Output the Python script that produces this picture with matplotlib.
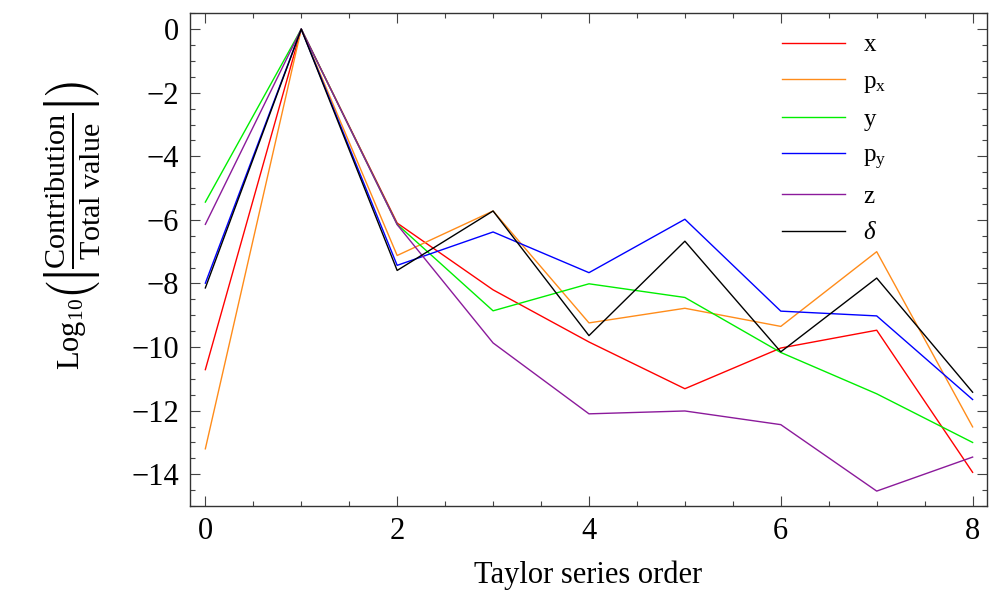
import numpy as np
import matplotlib.pyplot as plt
from matplotlib.ticker import MultipleLocator

plt.rcParams['font.family'] = ['Liberation Serif', 'DejaVu Serif']
plt.rcParams['mathtext.fontset'] = 'custom'
plt.rcParams['mathtext.rm'] = 'Liberation Serif'
plt.rcParams['mathtext.it'] = 'Liberation Serif:italic'
plt.rcParams['mathtext.bf'] = 'Liberation Serif:bold'

# Taylor series order
order = [0, 1, 2, 3, 4, 5, 6, 7, 8]

# log10(|contribution / total value|) for each coordinate
x_vals  = [-10.71, 0, -6.10, -8.20, -9.84, -11.31, -10.03, -9.47, -13.94]
px_vals = [-13.20, 0, -7.12, -5.72, -9.24, -8.78, -9.35, -7.00, -12.51]
y_vals  = [-5.44, 0, -6.14, -8.86, -8.01, -8.44, -10.17, -11.47, -13.00]
py_vals = [-7.99, 0, -7.43, -6.38, -7.66, -5.98, -8.87, -9.02, -11.65]
z_vals  = [-6.14, 0, -6.15, -9.87, -12.10, -12.01, -12.44, -14.53, -13.46]
d_vals  = [-8.14, 0, -7.59, -5.72, -9.64, -6.67, -10.15, -7.83, -11.42]

labels = ['x', r'$\mathrm{p_x}$', 'y', r'$\mathrm{p_y}$', 'z', r'$\delta$']
colors = ['#ff0000', '#ff8c1a', '#00ee00', '#0000ff', '#8b1a9b', '#000000']
series = [x_vals, px_vals, y_vals, py_vals, z_vals, d_vals]

fig = plt.figure(figsize=(10, 6.01), dpi=100)
ax = fig.add_axes([0.19, 0.158, 0.797, 0.820])

for vals, c, lab in zip(series, colors, labels):
    ax.plot(order, vals, color=c, lw=1.0, label=lab)

ax.set_xlim(-0.16, 8.15)
ax.set_ylim(-15.0, 0.5)
ax.xaxis.set_major_locator(MultipleLocator(2))
ax.xaxis.set_minor_locator(MultipleLocator(0.5))
ax.yaxis.set_major_locator(MultipleLocator(2))
ax.yaxis.set_minor_locator(MultipleLocator(0.5))
ax.tick_params(which='both', direction='in', top=True, right=True,
               color='#444444', width=0.8)
ax.tick_params(which='major', length=7, labelsize=22, pad=8)
ax.tick_params(which='minor', length=3.5)
for s in ax.spines.values():
    s.set_linewidth(1.0)
    s.set_color('#333333')

ax.set_xlabel('Taylor series order', fontsize=22, labelpad=10)

# y label in two pieces so the fraction is drawn at full size
t_log = fig.text(0.0725, 1 - 370 / 601, r'$\mathrm{Log}_{10}$', rotation=90,
                 fontsize=22, ha='center', va='bottom')
fig.canvas.draw()
bb = t_log.get_window_extent()
y_top = (bb.y1 - 3) / fig.bbox.height
fig.text(0.0725, y_top,
         r'$\left(\left|\frac{\mathrm{Contribution}}'
         r'{\mathrm{Total\ value}}\right|\right)$',
         rotation=90, fontsize=31, ha='center', va='bottom')

ax.legend(loc='upper left', bbox_to_anchor=(0.743, 0.958), frameon=False,
          fontsize=18, handlelength=2.5, handletextpad=0.75,
          labelspacing=0.55, borderpad=0, borderaxespad=0)

fig.savefig('out.png', dpi=100)
